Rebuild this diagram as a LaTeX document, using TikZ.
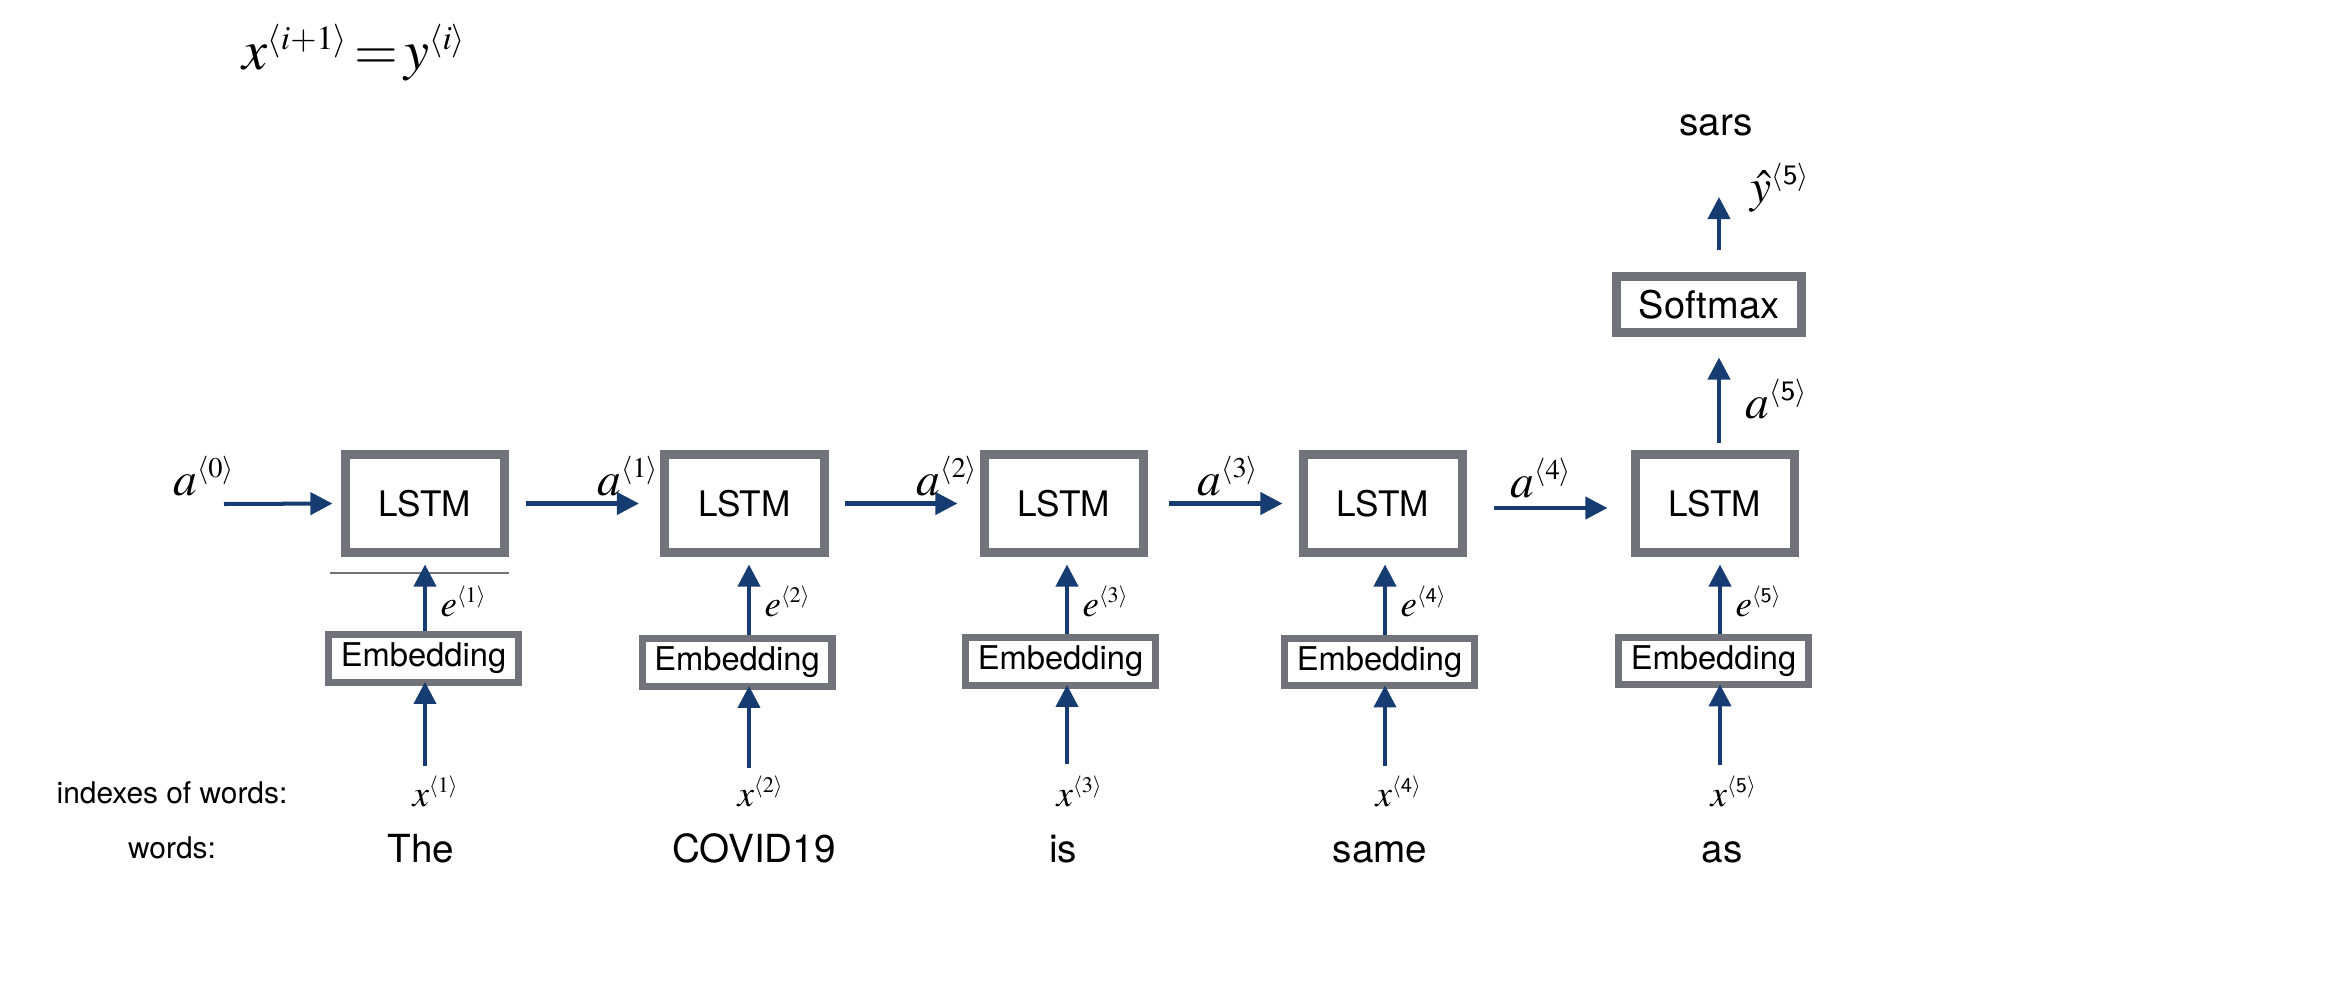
\documentclass[tikz,border=0pt]{standalone}
\usepackage{mathptmx}
\usepackage[no-math]{fontspec}
\setsansfont{TeX Gyre Heros}
\usetikzlibrary{arrows.meta,calc}
\definecolor{boxgray}{RGB}{112,115,121}
\definecolor{navy}{RGB}{22,60,114}
\newcommand{\ang}[1]{{\scriptscriptstyle\langle #1\rangle}}
\begin{document}
\begin{tikzpicture}[x=0.01cm,y=-0.01cm,
  lstm/.style={draw=boxgray,line width=2.56pt,minimum width=1.59cm,minimum height=0.98cm,inner sep=0pt,font=\sffamily\fontsize{10}{12}\selectfont},
  emb/.style={draw=boxgray,line width=2.1pt,minimum width=1.895cm,minimum height=0.475cm,inner sep=0pt,font=\sffamily\fontsize{9.3}{11}\selectfont},
  soft/.style={draw=boxgray,line width=2.56pt,minimum width=1.85cm,minimum height=0.56cm,inner sep=0pt,font=\sffamily\fontsize{10.8}{13}\selectfont},
  arr/.style={draw=navy,line width=1.14pt,-{Triangle[length=0.22cm,width=0.22cm]}},
  alab/.style={anchor=base west,inner sep=0pt,font=\fontsize{13.5}{15}\selectfont},
  elab/.style={anchor=base west,inner sep=0pt,font=\fontsize{10.5}{12}\selectfont},
  word/.style={anchor=base,inner sep=0pt,font=\sffamily\fontsize{11}{13}\selectfont},
  side/.style={anchor=base,inner sep=0pt,font=\sffamily\fontsize{8.5}{10}\selectfont}]
\useasboundingbox (0,0) rectangle (2326,1006);

% formula
\node[anchor=base west,inner sep=0pt,font=\fontsize{16}{19}\selectfont] (f) at (242,70) {$x^{\ang{i+1}}\mathrel{\mkern-2mu=\mkern-2mu}y^{\ang{i}}$};

% LSTM cells
\node[lstm] (L1) at (425,503.5) {LSTM};
\node[lstm] (L2) at (744.5,503.5) {LSTM};
\node[lstm] (L3) at (1064,503.5) {LSTM};
\node[lstm] (L4) at (1383,503.5) {LSTM};
\node[lstm] (L5) at (1715,503.5) {LSTM};

% Embeddings
\node[emb] (E1) at (423.5,658.5) {Embedding};
\node[emb] (E2) at (737,662.5) {Embedding};
\node[emb] (E3) at (1060.5,661.5) {Embedding};
\node[emb] (E4) at (1379.5,662) {Embedding};
\node[emb] (E5) at (1713.5,661) {Embedding};

% Softmax
\node[soft] (S) at (1709,304.5) {Softmax};

% column coordinates
\coordinate (c1) at (425,766);
\coordinate (c2) at (749,768);
\coordinate (c3) at (1067,764);
\coordinate (c4) at (1385,766);
\coordinate (c5) at (1720,765);
\coordinate (c6) at (1719,443);
\coordinate (a0s) at (224,504);
\coordinate (yt) at (1719,197);

% thin line
\draw[boxgray,line width=0.3pt] (330,573) -- (509,573);

% horizontal arrows
\draw[arr,shorten >=0.085cm] (a0s) -- (L1.west);
\draw[arr,shorten <=0.165cm,shorten >=0.215cm] (L1.east) -- (L2.west);
\draw[arr,shorten <=0.16cm,shorten >=0.225cm] (L2.east) -- (L3.west);
\draw[arr,shorten <=0.205cm,shorten >=0.165cm] (L3.east) -- (L4.west);
\draw[arr] ($(L4.east)+(26.5,4.5)$) -- ($(L5.west)+(-23.5,4.5)$);

% vertical arrows embedding -> LSTM
\foreach \i in {1,...,5}{
  \draw[arr,shorten >=0.075cm] (E\i.north -| c\i) -- (L\i.south -| c\i);
  \draw[arr,shorten >=-0.04cm] (c\i) -- (E\i.south -| c\i);
}

% LSTM5 -> softmax -> output
\draw[arr,shorten >=0.205cm] (c6) -- (S.south -| c6);
\draw[arr,shorten <=0.215cm] (S.north -| c6) -- (yt);

% a labels
\node[alab] (la0) at (173,495) {$a^{\ang{0}}$};
\node[alab] (la1) at (597,495) {$a^{\ang{1}}$};
\node[alab] (la2) at (916,495) {$a^{\ang{2}}$};
\node[alab] (la3) at (1197,495) {$a^{\ang{3}}$};
\node[alab] (la4) at (1510,497) {$a^{\ang{4}}$};
\node[alab] (la5) at (1745,418) {$a^{\ang{\mathsf{5}}}$};
\node[alab] (ly5) at (1750,202) {$\hat{y}^{\ang{\mathsf{5}}}$};

% e labels
\node[elab] (le1) at (440,616) {$e^{\ang{1}}$};
\node[elab] (le2) at (764,616) {$e^{\ang{2}}$};
\node[elab] (le3) at (1082,616) {$e^{\ang{3}}$};
\node[elab] (le4) at (1400,616) {$e^{\ang{\mathsf{4}}}$};
\node[elab] (le5) at (1735,616) {$e^{\ang{\mathsf{5}}}$};

% x labels
\node[elab] (lx1) at (412,806) {$x^{\ang{1}}$};
\node[elab] (lx2) at (737,806) {$x^{\ang{2}}$};
\node[elab] (lx3) at (1056,806) {$x^{\ang{3}}$};
\node[elab] (lx4) at (1375,806) {$x^{\ang{\mathsf{4}}}$};
\node[elab] (lx5) at (1710,806) {$x^{\ang{\mathsf{5}}}$};

% words
\node[word] (w1) at (421,862) {The};
\node[word] (w2) at (754,862) {COVID19};
\node[word] (w3) at (1063,862) {is};
\node[word] (w4) at (1380,862) {same};
\node[word] (w5) at (1722,862) {as};
\node[word] (w6) at (1716,135) {sars};

% side labels
\node[side] (s1) at (172,803) {indexes of words:};
\node[side] (s2) at (172,858) {words:};
\end{tikzpicture}
\end{document}
